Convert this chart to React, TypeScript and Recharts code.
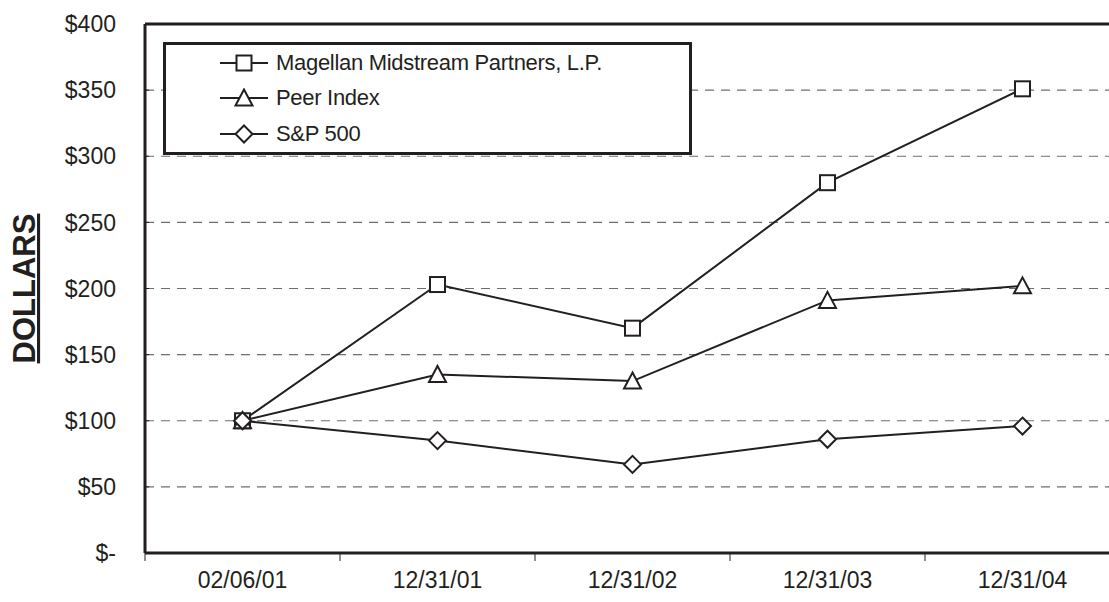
import { CartesianGrid, Legend, Line, LineChart, ReferenceLine, XAxis, YAxis } from "recharts";

const DATES = ["02/06/01", "12/31/01", "12/31/02", "12/31/03", "12/31/04"];
const MAGELLAN = [100, 203, 170, 280, 351];
const PEER_INDEX = [100, 135, 130, 191, 202];
const SP500 = [100, 85, 67, 86, 96];
const Y_TICKS = [0, 50, 100, 150, 200, 250, 300, 350, 400];

const INK = "#231f20";
const FONT = "'Liberation Sans', Arial, Helvetica, sans-serif";
const X_TICK_MARGIN = 19;

const SERIES = [
  { key: "magellan", name: "Magellan Midstream Partners, L.P.", shape: "square" },
  { key: "peer", name: "Peer Index", shape: "triangle" },
  { key: "sp500", name: "S&P 500", shape: "diamond" },
];

const data = DATES.map((date, i) => ({
  date,
  magellan: MAGELLAN[i],
  peer: PEER_INDEX[i],
  sp500: SP500[i],
}));

function Marker({ cx, cy, shape }: { cx?: number; cy?: number; shape: string }) {
  if (cx == null || cy == null) return null;
  const style = { fill: "#fff", stroke: INK, strokeWidth: 2 };
  if (shape === "square") {
    return <rect x={cx - 7.5} y={cy - 7.5} width={15} height={15} {...style} />;
  }
  if (shape === "triangle") {
    return <polygon points={`${cx},${cy - 8.5} ${cx + 8.5},${cy + 7.5} ${cx - 8.5},${cy + 7.5}`} {...style} />;
  }
  return <polygon points={`${cx},${cy - 8.5} ${cx + 8.5},${cy} ${cx},${cy + 8.5} ${cx - 8.5},${cy}`} {...style} />;
}

// date label centred in its band, plus the small tick mark at the band's left edge
function DateTick(props: any) {
  const { x, y, payload } = props;
  const edge = payload.coordinate - (payload.offset || 0);
  const axisY = y - X_TICK_MARGIN;
  return (
    <g>
      <line x1={edge} y1={axisY} x2={edge} y2={axisY + 8} stroke={INK} strokeWidth={1} />
      <text x={x} y={y} dy="0.71em" textAnchor="middle" fill={INK} fontSize={23} fontFamily={FONT}>
        {payload.value}
      </text>
    </g>
  );
}

function LegendBox() {
  return (
    <div
      style={{
        border: `3px solid ${INK}`,
        background: "#fff",
        width: 529,
        height: 113,
        boxSizing: "border-box",
        fontFamily: FONT,
        fontSize: 22,
        color: INK,
      }}
    >
      {SERIES.map((s) => (
        <div key={s.key} style={{ display: "flex", alignItems: "center", height: 35.5, paddingLeft: 53 }}>
          <svg width={50} height={20} style={{ display: "block" }}>
            <line x1={1} y1={10} x2={49} y2={10} stroke={INK} strokeWidth={2} />
            <Marker cx={25} cy={10} shape={s.shape} />
          </svg>
          <span style={{ marginLeft: 7, letterSpacing: -0.3, whiteSpace: "nowrap" }}>{s.name}</span>
        </div>
      ))}
    </div>
  );
}

function DollarsLabel(props: any) {
  const vb = props.viewBox || { x: 0, y: 0, width: 0, height: 0 };
  const x = vb.x + 35;
  const y = vb.y + vb.height / 2;
  return (
    <text
      x={x}
      y={y}
      transform={`rotate(-90, ${x}, ${y})`}
      textAnchor="middle"
      fill={INK}
      fontSize={31}
      fontWeight="bold"
      fontFamily={FONT}
      style={{ textDecoration: "underline" }}
    >
      DOLLARS
    </text>
  );
}

export default function App() {
  return (
    <div
      style={{
        position: "absolute",
        left: 0,
        top: 0,
        width: 1109,
        height: 602,
        overflow: "hidden",
        background: "#fff",
      }}
    >
      <LineChart
        width={1135}
        height={602}
        data={data}
        margin={{ top: 24, right: 15, left: 0, bottom: 0 }}
        style={{ fontFamily: FONT }}
      >
        <CartesianGrid vertical={false} stroke="#6e6e6e" strokeWidth={1.2} strokeDasharray="9 7" />
        <XAxis
          dataKey="date"
          scale="band"
          height={49}
          interval={0}
          axisLine={{ stroke: INK, strokeWidth: 3 }}
          tickLine={false}
          tickSize={0}
          tickMargin={X_TICK_MARGIN}
          tick={<DateTick />}
        />
        <YAxis
          domain={[0, 400]}
          ticks={Y_TICKS}
          width={145}
          axisLine={{ stroke: INK, strokeWidth: 3 }}
          tickLine={{ stroke: INK }}
          tickSize={-4}
          tickMargin={33}
          tickFormatter={(v: number) => (v === 0 ? "$-" : `$${v}`)}
          tick={{ fill: INK, fontSize: 23 }}
          label={<DollarsLabel />}
        />
        <ReferenceLine y={400} stroke={INK} strokeWidth={3} />
        <Legend
          layout="vertical"
          align="center"
          verticalAlign="middle"
          content={<LegendBox />}
          wrapperStyle={{ left: 163, top: 42, width: 529, height: 113 }}
        />
        {SERIES.map((s) => (
          <Line
            key={s.key}
            dataKey={s.key}
            name={s.name}
            stroke={INK}
            strokeWidth={2}
            isAnimationActive={false}
            activeDot={false}
            dot={(p: any) => <Marker key={`${s.key}-${p.index}`} cx={p.cx} cy={p.cy} shape={s.shape} />}
          />
        ))}
      </LineChart>
    </div>
  );
}
